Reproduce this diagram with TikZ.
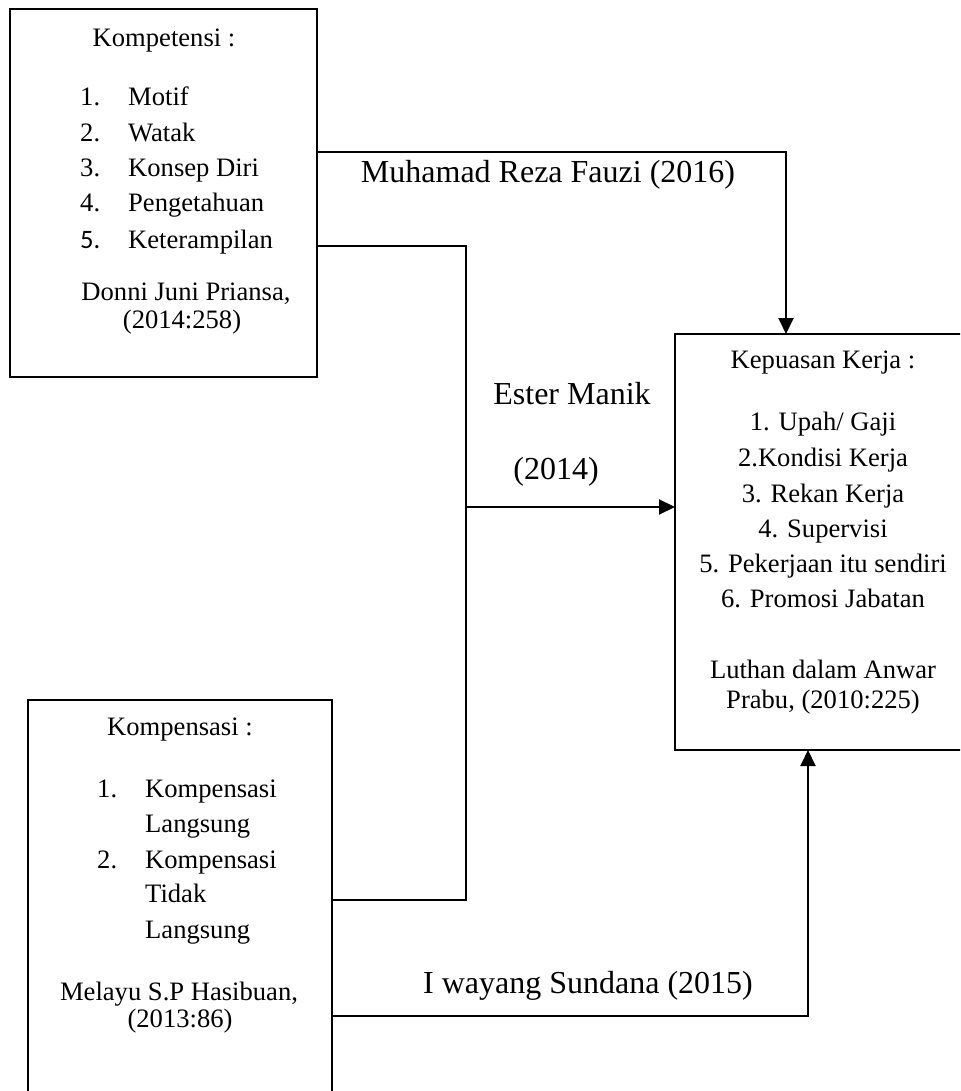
\documentclass[tikz,border=0pt]{standalone}
\usepackage{fontspec}
\setmainfont{Liberation Serif}
\newfontfamily\calibri{Carlito}
\usetikzlibrary{arrows.meta}
\begin{document}
\begin{tikzpicture}[x=1pt,y=-1pt,
  box/.style={draw, line width=1.8pt, anchor=north west, inner sep=0pt, outer sep=0pt},
  txt/.style={inner sep=0pt, anchor=base, font=\fontsize{26.6}{30}\selectfont},
  ltxt/.style={txt, anchor=base west},
  lbl/.style={inner sep=0pt, anchor=base, font=\fontsize{32}{36}\selectfont},
  conn/.style={line width=2pt},
  arr/.style={conn, -{Triangle[length=16pt,width=15pt]}}]
\useasboundingbox (0,0) rectangle (960,1091);
\clip (0,0) rectangle (960,1091);

% boxes
\node[box, minimum width=307pt, minimum height=368pt] (kompet) at (10,9) {};
\node[box, minimum width=297pt, minimum height=416pt] (kepuasan) at (675,334) {};
\node[box, minimum width=304pt, minimum height=420pt] (kompen) at (28,700) {};

% Kompetensi text
\node[txt] (kt0) at (164,47) {Kompetensi :};
\node[ltxt] (kn1) at (80,106) {1.}; \node[ltxt] (kt1) at (128,106) {Motif};
\node[ltxt] (kn2) at (80,142) {2.}; \node[ltxt] (kt2) at (128,142) {Watak};
\node[ltxt] (kn3) at (80,177) {3.}; \node[ltxt] (kt3) at (128,177) {Konsep Diri};
\node[ltxt] (kn4) at (80,212) {4.}; \node[ltxt] (kt4) at (128,212) {Pengetahuan};
\node[ltxt] (kn5) at (80,248) {\calibri 5.}; \node[ltxt] (kt5) at (128,248) {Keterampilan};
\node[txt] (kt6) at (186,300) {Donni Juni Priansa,};
\node[txt] (kt7) at (182,328) {(2014:258)};

% Kepuasan text
\node[txt] (pt0) at (823,368) {Kepuasan Kerja :};
\node[txt] (pt1) at (823,430) {1. Upah/ Gaji};
\node[txt] (pt2) at (823,466) {2.Kondisi Kerja};
\node[txt] (pt3) at (823,502) {3. Rekan Kerja};
\node[txt] (pt4) at (823,537) {4. Supervisi};
\node[txt] (pt5) at (823,572) {5. Pekerjaan itu sendiri};
\node[txt] (pt6) at (823,607) {6. Promosi Jabatan};
\node[txt] (pt7) at (823,678) {Luthan dalam Anwar};
\node[txt] (pt8) at (823,708) {Prabu, (2010:225)};

% Kompensasi text
\node[txt] (mt0) at (180,735) {Kompensasi :};
\node[ltxt] (mn1) at (97,797) {1.}; \node[ltxt] (mt1) at (145,797) {Kompensasi};
\node[ltxt] (mt2) at (145,832) {Langsung};
\node[ltxt] (mn2) at (97,868) {2.}; \node[ltxt] (mt3) at (145,868) {Kompensasi};
\node[ltxt] (mt4) at (145,902) {Tidak};
\node[ltxt] (mt5) at (145,938) {Langsung};
\node[txt] (mt6) at (179,1000) {Melayu S.P Hasibuan,};
\node[txt] (mt7) at (180,1027) {(2013:86)};

% connectors
\coordinate (b1) at (786,152);
\draw[arr] (kompet.east |- b1) -- (b1) -- (kepuasan.north -| b1);
\coordinate (b2) at (466,246);
\coordinate (b3) at (466,900);
\draw[conn] (kompet.east |- b2) -- (b2) -- (b3) -- (kompen.east |- b3);
\coordinate (b4) at (466,507);
\draw[arr] (b4) -- (kepuasan.west |- b4);
\coordinate (b5) at (808,1016);
\draw[arr] (kompen.east |- b5) -- (b5) -- (kepuasan.south -| b5);

% connector labels
\node[lbl] (l1) at (548,183) {Muhamad Reza Fauzi (2016)};
\node[lbl] (l2) at (572,404) {Ester Manik};
\node[lbl] (l3) at (556,479) {(2014)};
\node[lbl] (l4) at (588,993) {I wayang Sundana (2015)};
\end{tikzpicture}
\end{document}
